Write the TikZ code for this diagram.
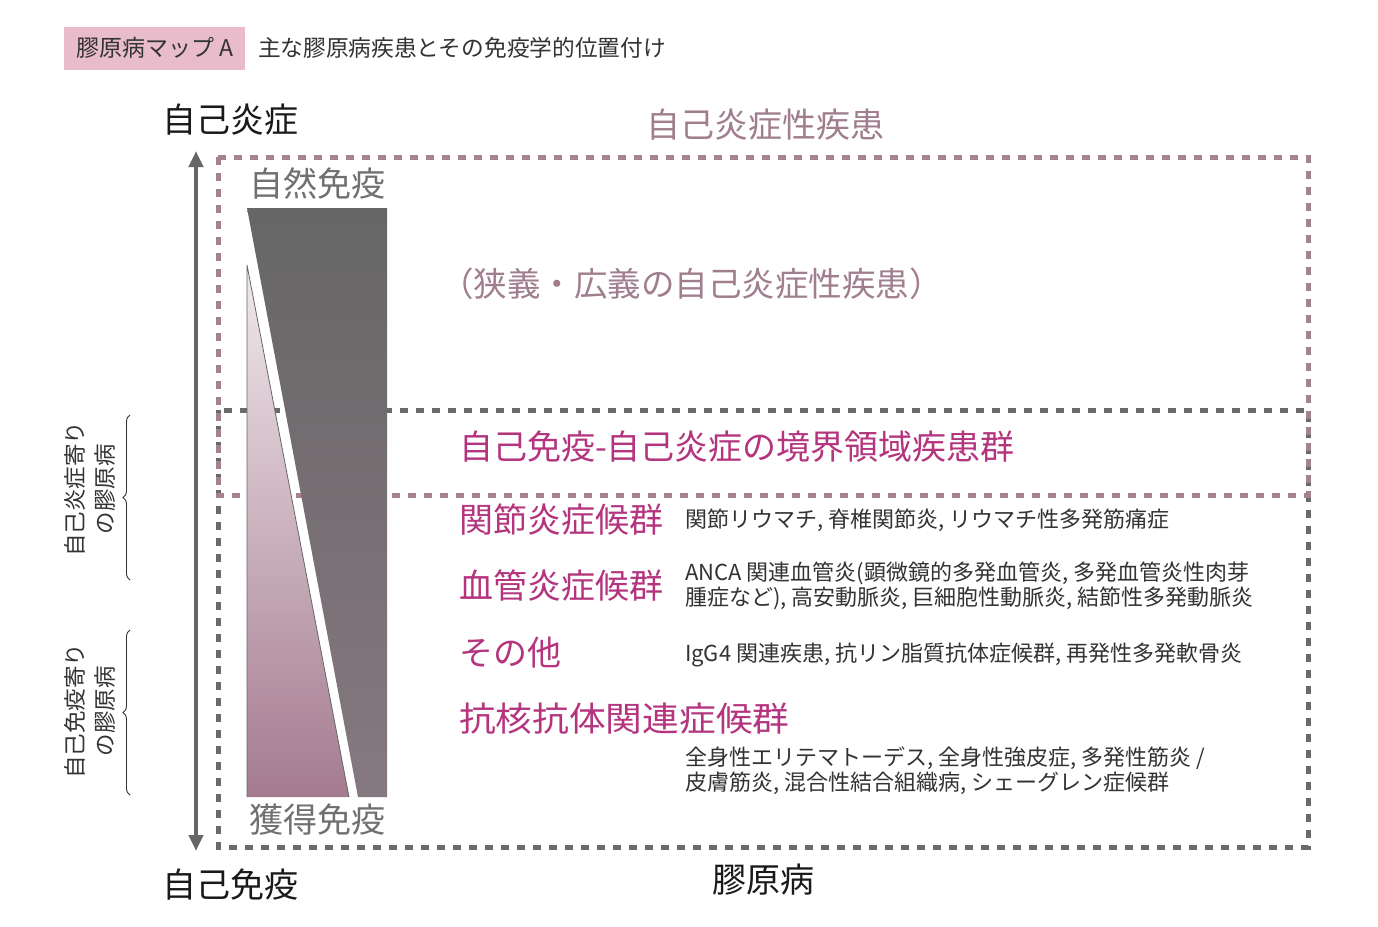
\documentclass[tikz,border=0pt]{standalone}
\usepackage{fontspec}
\setmainfont{Noto Sans CJK JP}
\usetikzlibrary{arrows.meta,decorations.pathreplacing}
\definecolor{mag}{HTML}{B4347E}
\definecolor{mauvetxt}{HTML}{A07E8E}
\definecolor{mauvedash}{HTML}{A6828F}
\definecolor{graydash}{HTML}{6A6A6A}
\definecolor{arrowc}{HTML}{666666}
\definecolor{immtxt}{HTML}{707070}
\definecolor{blk}{HTML}{1A1A1A}
\definecolor{bodyc}{HTML}{333333}
\definecolor{pinkbox}{HTML}{E8BCCB}
\definecolor{darkTop}{HTML}{666666}
\definecolor{darkBot}{HTML}{867880}
\definecolor{lightTop}{HTML}{F0E8EC}
\definecolor{lightBot}{HTML}{A57B8F}
\newcommand{\fsz}[2]{\fontsize{#1}{#2}\selectfont}
\begin{document}
\begin{tikzpicture}[x=1pt,y=-1pt,
  txt/.style={inner sep=0pt, outer sep=0pt},
  lab/.style={txt, anchor=west},
  axis/.style={txt, text=blk, font=\fsz{34}{40}},
  head/.style={lab, text=mag, font=\fsz{34}{40}},
  body/.style={lab, text=bodyc, font=\fsz{22}{25}, align=left},
  immu/.style={lab, text=immtxt, font=\fsz{34}{40}},
  vert/.style={txt, rotate=90, align=center, text=bodyc, font=\fsz{22.5}{30}},
  mdash/.style={draw=mauvedash, line width=5pt, dash pattern=on 8pt off 8pt},
  gdash/.style={draw=graydash, line width=5pt, dash pattern=on 8pt off 8pt},
  brc/.style={draw=bodyc, line width=0.9pt, decorate, decoration={brace, amplitude=7pt}},
  axarrow/.style={draw=arrowc, line width=4pt, {Triangle[length=16pt,width=14pt]}-{Triangle[length=16pt,width=14pt]}}
]
\useasboundingbox[fill=white] (0,0) rectangle (1378,926);

% header
\node[txt, fill=pinkbox, minimum width=181pt, minimum height=43pt, anchor=north west] (hbox) at (64,27) {};
\node[lab, text=bodyc, font=\fsz{23}{26}] (htxt) at (76,48) {膠原病マップ A};
\node[lab, text=bodyc, font=\fsz{22.7}{26}] (title) at (258,48) {主な膠原病疾患とその免疫学的位置付け};

% dashed regions
\draw[gdash] (218,410) rectangle (1308,847);
\draw[mdash] (218,157) rectangle (1308,495);

% axis arrow
\coordinate (atop) at (196,151);
\coordinate (abot) at (196,851);
\draw[axarrow] (abot) -- (atop);

% immunity wedges
\shade[top color=darkTop, bottom color=darkBot] (247,208) -- (387,208) -- (387,797) -- (358,797) -- cycle;
\shade[top color=lightTop, bottom color=lightBot] (247,265) -- (349,797) -- (247,797) -- cycle;
\draw[draw=darkTop, line width=0.8pt] (247,797) -- (247,265) -- (349,797);

% axis labels
\node[axis, anchor=west] (ainf) at (162,120) {自己炎症};
\node[axis, anchor=west] (aimm) at (162,885) {自己免疫};
\node[axis] (coll) at (763,880) {膠原病};
\node[immu] (nat) at (249,183) {自然免疫};
\node[immu] (acq) at (249,820) {獲得免疫};

% region labels
\node[txt, text=mauvetxt, font=\fsz{34}{40}] (aid) at (765,125) {自己炎症性疾患};
\node[lab, text=mauvetxt, font=\fsz{33.5}{38}] (aidsub) at (440,284) {（狭義・広義の自己炎症性疾患）};
\node[head, font=\fsz{34}{40}] (border) at (459,447) {自己免疫-自己炎症の境界領域疾患群};

% groups
\node[head] (g1) at (459,520) {関節炎症候群};
\node[body] (b1) at (685,520) {関節リウマチ, 脊椎関節炎, リウマチ性多発筋痛症};
\node[head] (g2) at (459,586) {血管炎症候群};
\node[body] (b2) at (685,586) {ANCA 関連血管炎(顕微鏡的多発血管炎, 多発血管炎性肉芽\\腫症など), 高安動脈炎, 巨細胞性動脈炎, 結節性多発動脈炎};
\node[head] (g3) at (459,653) {その他};
\node[body] (b3) at (685,655) {IgG4 関連疾患, 抗リン脂質抗体症候群, 再発性多発軟骨炎};
\node[head] (g4) at (459,719) {\scalebox{1.08}[1]{抗核抗体関連症候群}};
\node[body] (b4) at (685,771) {全身性エリテマトーデス, 全身性強皮症, 多発性筋炎 /\\皮膚筋炎, 混合性結合組織病, シェーグレン症候群};

% side labels
\node[vert] (v1) at (90,489) {自己炎症寄り\\の膠原病};
\node[vert] (v2) at (90,711) {自己免疫寄り\\の膠原病};
\coordinate (br1b) at (130,580);
\coordinate (br1t) at (130,415);
\coordinate (br2b) at (130,795);
\coordinate (br2t) at (130,630);
\draw[brc] (br1b) -- (br1t);
\draw[brc] (br2b) -- (br2t);
\end{tikzpicture}
\end{document}
